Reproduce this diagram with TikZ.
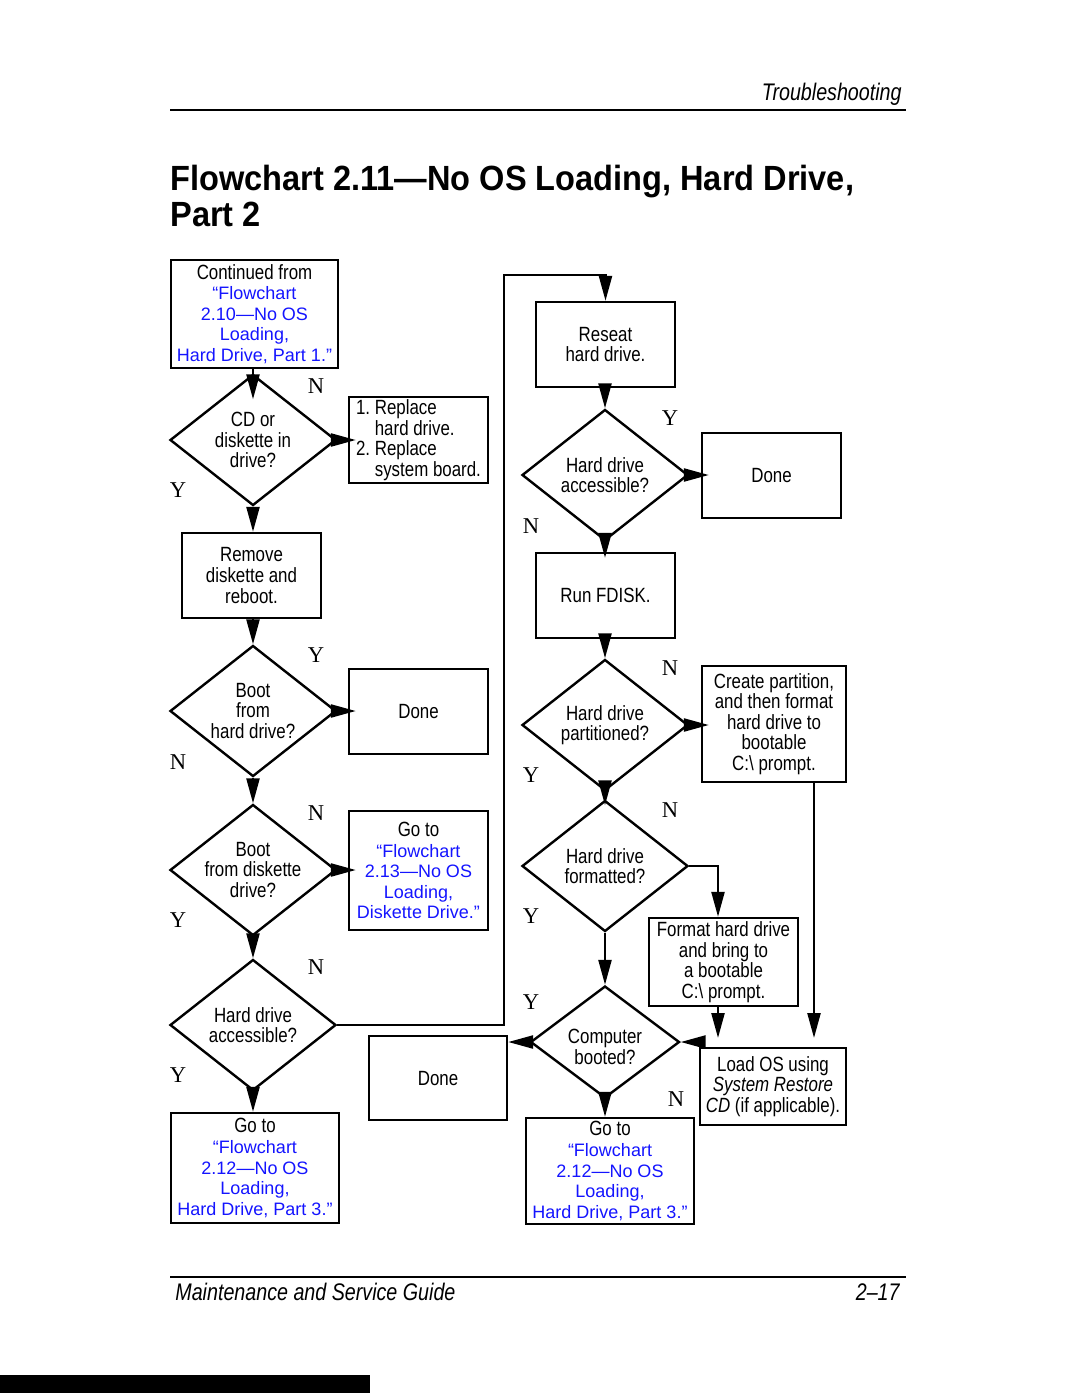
\documentclass[tikz,border=0pt]{standalone}
\usepackage{fontspec}
\setmainfont{Liberation Sans}
\newfontfamily\narrowfont[FakeStretch=0.82]{Liberation Sans}
\newfontfamily\titlefont[FakeStretch=0.93]{Liberation Sans}
\newfontfamily\ynfont{Liberation Serif}
\usetikzlibrary{shapes.geometric,arrows.meta}
\definecolor{xrefblue}{HTML}{1414FF}
\newdimen\px \px=0.5pt
\newcommand{\xref}[1]{{\color{xrefblue}\normalfont\fontsize{9}{10.3}\selectfont #1}}

\begin{document}
\begin{tikzpicture}[
    x=0.5pt, y=-0.5pt,
    sz/.style 2 args={minimum width=#1*\px, minimum height=#2*\px},
    box/.style={draw, line width=1.2pt, rectangle, inner sep=0pt, align=center,
      font=\narrowfont\fontsize{10.3}{10.3}\selectfont},
    dec/.style={draw, line width=1.2pt, diamond, inner sep=0pt, sz={166}{131}},
    dtxt/.style={align=center, inner sep=0pt, font=\narrowfont\fontsize{10.3}{10.3}\selectfont},
    yn/.style={font=\ynfont\fontsize{11.3}{12}\selectfont, inner sep=0pt},
    arrow/.style={line width=1.2pt, -{Triangle[length=12.5pt,width=6.5pt]}},
    rule/.style={line width=0.7pt},
  ]
  \useasboundingbox (0,0) rectangle (1080,1397);

  % ---- page furniture
  \draw[rule] (170,110) -- (906,110);
  \draw[rule] (170,1277) -- (906,1277);
  \node[anchor=base east, inner sep=0pt, font=\narrowfont\itshape\fontsize{12}{12}\selectfont]
    (runhead) at (902,100) {Troubleshooting};
  \node[anchor=base west, inner sep=0pt, font=\titlefont\bfseries\fontsize{17.5}{18}\selectfont]
    (title1) at (170,190) {Flowchart 2.11—No OS Loading, Hard Drive,};
  \node[anchor=base west, inner sep=0pt, font=\titlefont\bfseries\fontsize{17.5}{18}\selectfont]
    (title2) at (170,226) {Part 2};
  \node[anchor=base west, inner sep=0pt, font=\narrowfont\itshape\fontsize{12}{12}\selectfont]
    (runfoot) at (175,1300) {Maintenance and Service Guide};
  \node[anchor=base east, inner sep=0pt, font=\narrowfont\itshape\fontsize{12}{12}\selectfont]
    (pageno) at (900,1300) {2–17};
  \fill (0,1375) rectangle (370,1393);

  % ---- left column
  \node[box, sz={167}{108}] (cont) at (254.5,314)
    {Continued from\\\xref{“Flowchart}\\\xref{2.10—No OS}\\\xref{Loading,}\\\xref{Hard Drive, Part 1.”}};
  \node[dec, label={[dtxt]center:CD or\\diskette in\\drive?}] (d1) at (253,440) {};
  \node[box, sz={139}{86}, align=left] (repl) at (418.5,440)
    {1.\ Replace\\\phantom{1.\ }hard drive.\\2.\ Replace\\\phantom{2.\ }system board.};
  \node[box, sz={139}{85}] (remove) at (251.5,575.5) {Remove\\diskette and\\reboot.};
  \node[dec, label={[dtxt]center:Boot\\from\\hard drive?}] (d2) at (253,711) {};
  \node[box, sz={139}{85}] (done1) at (418.5,711.5) {Done};
  \node[dec, label={[dtxt]center:Boot\\from diskette\\drive?}] (d3) at (253,870) {};
  \node[box, sz={139}{119}] (goto13) at (418.5,870.5)
    {Go to\\\xref{“Flowchart}\\\xref{2.13—No OS}\\\xref{Loading,}\\\xref{Diskette Drive.”}};
  \node[dec, label={[dtxt]center:Hard drive\\accessible?}] (d4) at (253,1025) {};
  \node[box, sz={168}{110}] (gotoa) at (255,1168)
    {Go to\\\xref{“Flowchart}\\\xref{2.12—No OS}\\\xref{Loading,}\\\xref{Hard Drive, Part 3.”}};
  \node[box, sz={138}{84}] (done3) at (438,1078) {Done};

  % ---- right column
  \node[box, sz={139}{85}] (reseat) at (605.5,344.5) {Reseat\\hard drive.};
  \node[dec, label={[dtxt]center:Hard drive\\accessible?}] (d5) at (605,475) {};
  \node[box, sz={139}{85}] (done2) at (771.5,475.5) {Done};
  \node[box, sz={139}{85}] (fdisk) at (605.5,595.5) {Run FDISK.};
  \node[dec, label={[dtxt]center:Hard drive\\partitioned?}] (d6) at (605,725) {};
  \node[box, sz={144}{116}] (create) at (774,724)
    {Create partition,\\and then format\\hard drive to\\bootable\\C:\textbackslash{} prompt.};
  \node[dec, label={[dtxt]center:Hard drive\\formatted?}] (d7) at (605,866) {};
  \node[box, sz={149}{88}] (fmt) at (723.5,962)
    {Format hard drive\\and bring to\\a bootable\\C:\textbackslash{} prompt.};
  \node[dec, sz={149}{112}, label={[dtxt,yshift=-2.5pt]center:Computer\\booted?}] (d8) at (605,1042) {};
  \node[box, sz={146}{77}] (loados) at (773,1086.5)
    {Load OS using\\\textit{System Restore}\\\textit{CD} (if applicable).};
  \node[box, sz={168}{106}] (gotob) at (610,1171)
    {Go to\\\xref{“Flowchart}\\\xref{2.12—No OS}\\\xref{Loading,}\\\xref{Hard Drive, Part 3.”}};

  % ---- free ends of the connectors
  \coordinate (loopbot) at (504,1025);
  \coordinate (looptop) at (504,275);
  \coordinate (fmtend) at (718,1038);
  \coordinate (crend) at (814,1038);
  \coordinate (merge) at (702,1042);

  % ---- left column connectors
  \draw[arrow, shorten >=-13pt] (d1.north |- cont.south) -- (d1.north);
  \draw[arrow, shorten >=-4pt] (d1.east) -- (repl.west);
  \draw[arrow] (d1.south) -- (d1.south |- remove.north);
  \draw[arrow] (d2.north |- remove.south) -- (d2.north);
  \draw[arrow, shorten >=-4pt] (d2.east) -- (d2.east -| done1.west);
  \draw[arrow] (d2.south) -- (d3.north);
  \draw[arrow, shorten >=-4pt] (d3.east) -- (d3.east -| goto13.west);
  \draw[arrow] (d3.south) -- (d4.north);
  \draw[arrow] (d4.south) -- (d4.south |- gotoa.north);
  \draw[arrow] (d4.east) -- (loopbot) -- (looptop) -| (reseat.north);

  % ---- right column connectors
  \draw[arrow] (d5.north |- reseat.south) -- (d5.north);
  \draw[arrow, shorten >=-4pt] (d5.east) -- (d5.east -| done2.west);
  \draw[arrow, shorten >=-3pt] (d5.south) -- (d5.south |- fdisk.north);
  \draw[arrow] (d6.north |- fdisk.south) -- (d6.north);
  \draw[arrow, shorten >=-4pt] (d6.east) -- (d6.east -| create.west);
  \draw[arrow, shorten >=-3pt] (d6.south) -- (d7.north);
  \draw[arrow] (d7.east) -| (fmtend |- fmt.north);
  \draw[arrow] (d7.south) -- (d8.north);
  \draw[arrow] (fmtend |- fmt.south) -- (fmtend);
  \draw[arrow] (crend |- create.south) -- (crend);
  \draw[arrow] (merge) -- (d8.east);
  \draw[arrow] (d8.west) -- (d8.west -| done3.east);
  \draw[arrow] (d8.south) -- (d8.south |- gotob.north);

  % ---- Y / N answers
  \foreach \t/\x/\y [count=\i] in {N/316/386, Y/178/490, Y/316/655, N/178/762,
      N/316/813, Y/178/920, N/316/967, Y/178/1075, Y/670/418, N/531/526,
      N/670/668, Y/531/775, N/670/810, Y/531/916, Y/531/1002, N/676/1099}
    \node[yn] (ans\i) at (\x,\y) {\t};

\end{tikzpicture}
\end{document}
